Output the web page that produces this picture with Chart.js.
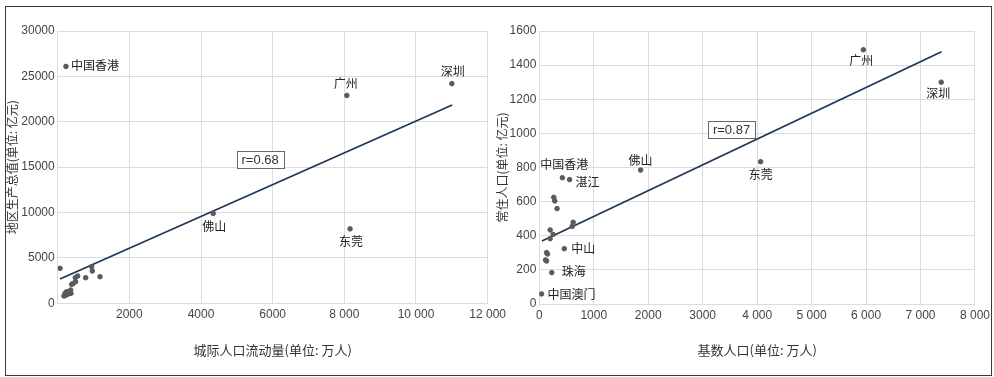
<!DOCTYPE html>
<html>
<head>
<meta charset="utf-8">
<script src="https://cdn.jsdelivr.net/npm/chart.js@4/dist/chart.umd.min.js"></script>
<style>
  html, body { margin: 0; padding: 0; background: #fff; }
  #wrap { position: relative; width: 994px; height: 377px; overflow: hidden; }
  #frame { position: absolute; left: 5px; top: 6px; width: 985px; height: 368px; border: 1px solid #3a3a3a; }
  canvas { position: absolute; top: 0; }
  #gdpChart { left: 0; }
  #popChart { left: 490px; }
</style>
</head>
<body>
<div id="wrap">
  <div id="frame"></div>
  <canvas id="gdpChart" width="510" height="377"></canvas>
  <canvas id="popChart" width="504" height="377"></canvas>
</div>
<script>
// left: 城际人口流动量 vs 地区生产总值
const flowNames = ['中国香港', '深圳', '广州', '佛山', '东莞', '', '', '', '', '', '', '', '', '', '', '', '', '', '', '', '', ''];
const flowValues = [230, 11000, 8070, 4340, 8160, 65, 948, 966, 1180, 780, 557, 492, 500, 437, 390, 362, 371, 250, 204, 176, 296, 230];
const gdpValues = [26100, 24200, 22900, 9900, 8200, 3850, 4030, 3560, 2930, 2820, 3010, 2820, 2380, 2200, 2090, 1465, 1100, 1280, 1100, 800, 1025, 900];
const flowTrendX = [64, 11010];
const flowTrendY = [2680, 21850];
const flowTicks = ['', '2000', '4000', '6000', '8 000', '10 000', '12 000'];

// right: 基数人口 vs 常住人口
const baseNames = ['广州', '深圳', '东莞', '佛山', '中国香港', '湛江', '', '', '', '', '', '', '', '', '', '', '', '', '中山', '珠海', '中国澳门'];
const baseValues = [5950, 7380, 4064, 1860, 423, 556, 266, 284, 326, 622, 604, 199, 254, 199, 133, 151, 115, 133, 459, 229, 42];
const residentValues = [1490, 1300, 834, 785, 740, 729, 625, 604, 559, 479, 455, 434, 408, 383, 301, 293, 258, 252, 324, 184, 59];
const baseTrendX = [48, 7385];
const baseTrendY = [369, 1479];
const baseTicks = ['0', '1000', '2000', '3000', '4 000', '5 000', '6 000', '7 000', '8 000'];

const NUM_FONT = { family: "'Liberation Sans', Arial, sans-serif", size: 12 };
const CJK_FONT = "'Noto Sans CJK SC', 'Noto Sans', sans-serif";
const GRID = '#dcdcdc';

const pairs = (xs, ys) => xs.map((x, i) => ({ x, y: ys[i] }));

// where each city name sits relative to its point: [dx, dy, align]
const flowPlacement = {
  中国香港: [5, -1, 'left'],
  深圳: [1, -12, 'center'],
  广州: [-1, -12, 'center'],
  佛山: [1, 13, 'center'],
  东莞: [1, 13, 'center']
};
const basePlacement = {
  广州: [-2, 11, 'center'],
  深圳: [-3, 11, 'center'],
  东莞: [0, 13, 'center'],
  佛山: [0, -10, 'center'],
  中国香港: [2, -13, 'center'],
  湛江: [6, 3, 'left'],
  中山: [7, 0, 'left'],
  珠海: [10, -1, 'left'],
  中国澳门: [6, 1, 'left']
};

const cityLabels = {
  id: 'cityLabels',
  afterDatasetsDraw(chart, args, opts) {
    const { ctx } = chart;
    const meta = chart.getDatasetMeta(0);
    ctx.save();
    ctx.font = `12px ${CJK_FONT}`;
    ctx.fillStyle = '#222';
    ctx.textBaseline = 'middle';
    opts.names.forEach((name, i) => {
      if (!name) return;
      const p = opts.placement[name];
      const el = meta.data[i];
      ctx.textAlign = p[2];
      ctx.fillText(name, el.x + p[0], el.y + p[1]);
    });
    ctx.restore();
  }
};

const rBox = {
  id: 'rBox',
  afterDatasetsDraw(chart, args, opts) {
    const { ctx, scales } = chart;
    const cx = scales.x.getPixelForValue(opts.x);
    const cy = scales.y.getPixelForValue(opts.y);
    const w = 47;
    const h = 17;
    ctx.save();
    ctx.fillStyle = '#fff';
    ctx.strokeStyle = '#666';
    ctx.lineWidth = 1;
    ctx.fillRect(Math.round(cx - w / 2), Math.round(cy - h / 2), w, h);
    ctx.strokeRect(Math.round(cx - w / 2) + 0.5, Math.round(cy - h / 2) + 0.5, w, h);
    ctx.font = Chart.helpers.toFont({ family: NUM_FONT.family, size: 13 }).string;
    ctx.fillStyle = '#333';
    ctx.textAlign = 'center';
    ctx.textBaseline = 'middle';
    ctx.fillText(opts.text, cx, cy + 1);
    ctx.restore();
  }
};

function makeChart(id, cfg) {
  // eslint-disable-next-line no-new
  new Chart(document.getElementById(id), {
    type: 'scatter',
    data: {
      datasets: [{
        data: pairs(cfg.xs, cfg.ys),
        backgroundColor: '#5a5a5a',
        borderColor: '#5a5a5a',
        pointRadius: 2.3,
        pointHoverRadius: 2.3
      }, {
        type: 'line',
        data: pairs(cfg.trendX, cfg.trendY),
        borderColor: '#1d3557',
        borderWidth: 1.7,
        pointRadius: 0,
        fill: false
      }]
    },
    plugins: [cityLabels, rBox],
    options: {
      responsive: false,
      animation: false,
      devicePixelRatio: 1,
      layout: { padding: cfg.padding },
      plugins: {
        legend: { display: false },
        tooltip: { enabled: false },
        cityLabels: { names: cfg.names, placement: cfg.placement },
        rBox: cfg.rBox
      },
      scales: {
        x: {
          type: 'linear',
          min: 0,
          max: cfg.xMax,
          grid: { color: GRID, drawTicks: false },
          border: { color: GRID },
          afterFit(scale) { scale.height = cfg.xHeight; },
          afterBuildTicks(scale) {
            scale.ticks = cfg.xTicks.map((t, i) => ({ value: i * cfg.xStep }));
          },
          ticks: {
            autoSkip: false,
            maxRotation: 0,
            padding: 4,
            color: '#444',
            font: NUM_FONT,
            callback: (v, i) => cfg.xTicks[i]
          },
          title: {
            display: true,
            text: cfg.xTitle,
            color: '#333',
            font: { family: CJK_FONT, size: 13 },
            padding: { top: 0, bottom: 19 }
          }
        },
        y: {
          type: 'linear',
          min: 0,
          max: cfg.yMax,
          grid: { color: GRID, drawTicks: false },
          border: { color: GRID },
          afterFit(scale) { scale.width = cfg.yWidth; },
          ticks: {
            stepSize: cfg.yStep,
            padding: 3,
            color: '#444',
            font: NUM_FONT,
            callback: (v) => String(v)
          },
          title: {
            display: true,
            text: cfg.yTitle,
            color: '#333',
            font: { family: CJK_FONT, size: 12 },
            padding: { top: cfg.yTitlePad, bottom: 0 }
          }
        }
      }
    }
  });
}

makeChart('gdpChart', {
  xs: flowValues,
  ys: gdpValues,
  names: flowNames,
  placement: flowPlacement,
  trendX: flowTrendX,
  trendY: flowTrendY,
  xTicks: flowTicks,
  xStep: 2000,
  xMax: 12000,
  yMax: 30000,
  yStep: 5000,
  xTitle: '城际人口流动量(单位: 万人)',
  yTitle: '地区生产总值(单位: 亿元)',
  padding: { top: 31, right: 21.7, left: 0, bottom: 0 },
  yWidth: 57.7,
  xHeight: 73.7,
  yTitlePad: 5,
  rBox: { x: 5650, y: 15820, text: 'r=0.68' }
});

makeChart('popChart', {
  xs: baseValues,
  ys: residentValues,
  names: baseNames,
  placement: basePlacement,
  trendX: baseTrendX,
  trendY: baseTrendY,
  xTicks: baseTicks,
  xStep: 1000,
  xMax: 8000,
  yMax: 1600,
  yStep: 200,
  xTitle: '基数人口(单位: 万人)',
  yTitle: '常住人口(单位: 亿元)',
  padding: { top: 31, right: 13, left: 0, bottom: 0 },
  yWidth: 49.3,
  xHeight: 73,
  yTitlePad: 5,
  rBox: { x: 3530, y: 1025, text: 'r=0.87' }
});
</script>
</body>
</html>
